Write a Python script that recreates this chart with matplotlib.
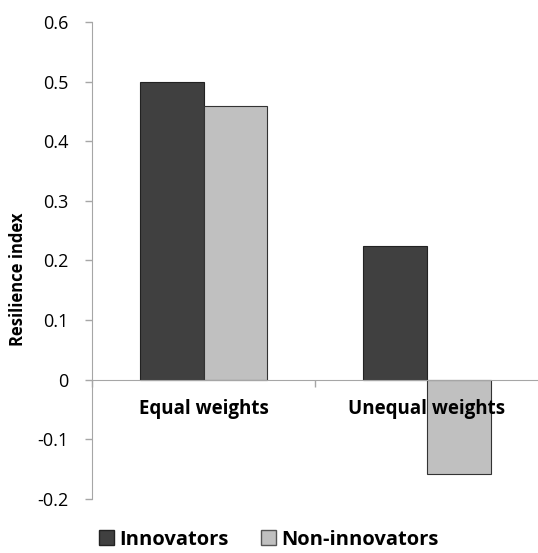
import numpy as np
import matplotlib.pyplot as plt
from matplotlib.patches import Patch

categories = ['Equal weights', 'Unequal weights']
innovators = [0.5, 0.225]
non_innovators = [0.46, -0.158]
yticks = [-0.2, -0.1, 0, 0.1, 0.2, 0.3, 0.4, 0.5, 0.6]

plt.rcParams['font.family'] = ['Open Sans', 'DejaVu Sans']

fig = plt.figure(figsize=(5.38, 5.53), dpi=100)
ax = fig.add_axes([0.171, 0.098, 0.83, 0.862])

x = np.arange(len(categories))
w = 0.286
dark = '#404040'
light = '#c0c0c0'
ax.bar(x - w/2, innovators, w, color=dark, edgecolor='#222222', linewidth=0.8)
ax.bar(x + w/2, non_innovators, w, color=light, edgecolor='#333333', linewidth=0.8)

ax.set_xlim(-0.5, 1.5)
ax.set_ylim(-0.2, 0.6)
ax.set_yticks(yticks)
ax.set_yticklabels(['-0.2', '-0.1', '0', '0.1', '0.2', '0.3', '0.4', '0.5', '0.6'], fontsize=13)

gray = '#a6a6a6'
for s in ['top', 'right']:
    ax.spines[s].set_visible(False)
ax.spines['left'].set_color(gray)
ax.spines['bottom'].set_color(gray)
ax.spines['bottom'].set_position(('data', 0))
ax.tick_params(axis='y', color=gray, length=5, width=1, pad=12)
ax.set_xticks([-0.5, 0.5, 1.5])
ax.set_xticklabels([])
ax.tick_params(axis='x', color=gray, length=5, width=1, direction='out')

for xi, c in zip(x, categories):
    ax.text(xi, -0.05, c, ha='center', va='center', fontsize=13.5, fontweight='bold')

ax.set_ylabel('Resilience index', fontsize=12, fontweight='bold', labelpad=6)
ax.yaxis.set_label_coords(-0.145, 0.46)

handles = [Patch(facecolor=dark, edgecolor='#222222', label='Innovators'),
           Patch(facecolor=light, edgecolor='#555555', label='Non-innovators')]
fig.legend(handles=handles, loc='center', bbox_to_anchor=(0.5, 0.024), ncol=2,
           frameon=False, prop={'size': 14.5, 'weight': 'bold'},
           handlelength=0.75, handleheight=0.75, handletextpad=0.25, columnspacing=1.6)

fig.savefig('out.png', dpi=100)
